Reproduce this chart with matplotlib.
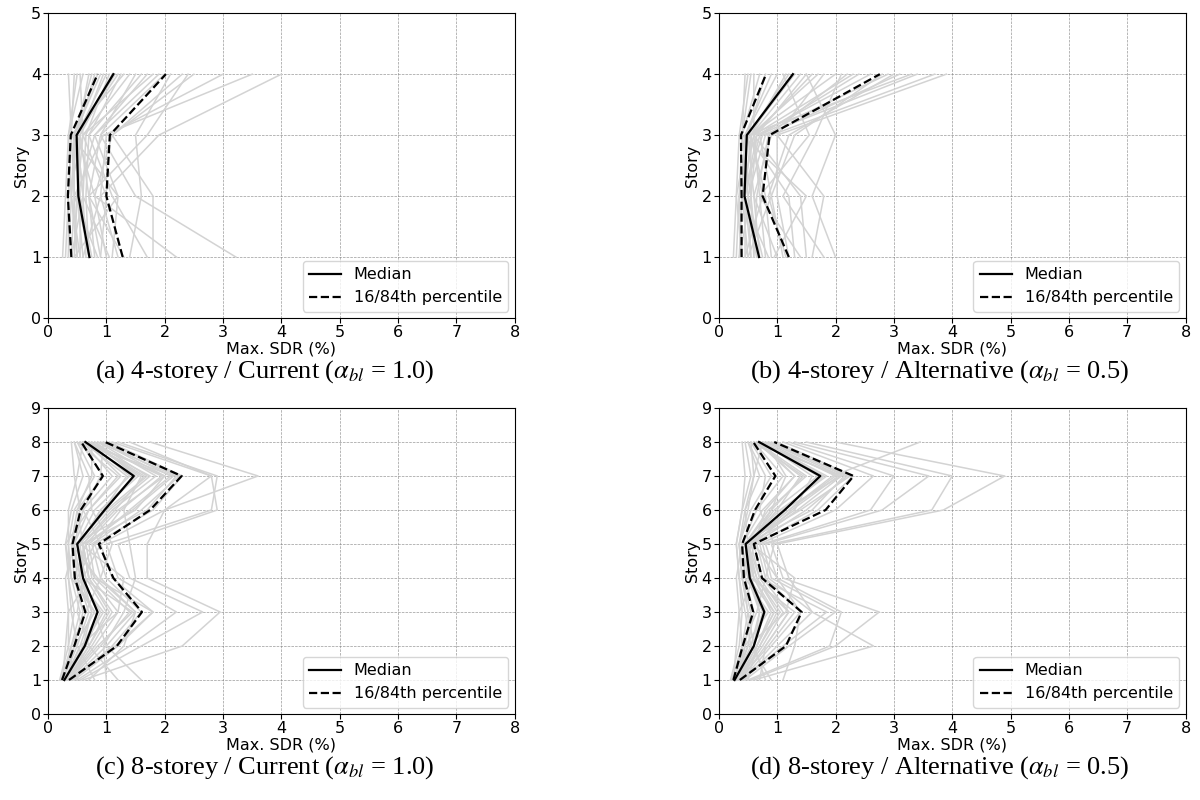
import matplotlib
matplotlib.use('Agg')
import matplotlib.pyplot as plt

plt.rcParams['mathtext.fontset'] = 'stix'

# 4层：每条地震记录的最大层间位移角 [1层, 2层, 3层, 4层]
a_gray = [
    [0.30, 0.35, 0.40, 0.45], [0.35, 0.40, 0.35, 0.60], [0.40, 0.45, 0.45, 0.90],
    [0.45, 0.50, 0.55, 1.10], [0.50, 0.40, 0.45, 0.75], [0.55, 0.55, 0.50, 1.20],
    [0.60, 0.50, 0.60, 1.40], [0.65, 0.60, 0.50, 1.00], [0.70, 0.65, 0.70, 1.60],
    [0.75, 0.55, 0.45, 0.85], [0.80, 0.70, 0.90, 2.00], [0.85, 0.45, 0.40, 1.30],
    [0.90, 1.00, 0.60, 1.80], [1.00, 0.80, 1.10, 2.50], [1.05, 0.60, 0.50, 1.15],
    [1.10, 1.20, 0.80, 1.70], [1.20, 0.90, 1.00, 3.00], [1.30, 0.70, 0.55, 0.95],
    [1.40, 1.60, 1.50, 2.10], [1.70, 1.10, 0.70, 1.25], [1.80, 1.80, 1.10, 2.30],
    [2.20, 0.80, 0.50, 0.70], [3.22, 1.50, 0.90, 1.50], [0.25, 0.30, 0.35, 0.50],
    [0.60, 0.90, 1.90, 4.00], [0.50, 0.45, 0.95, 3.50], [0.35, 0.35, 0.60, 0.55],
    [0.90, 0.70, 1.70, 2.40], [0.45, 1.20, 0.40, 0.35], [0.70, 0.50, 0.80, 1.90],
    [0.40, 0.60, 0.65, 1.05], [0.55, 0.40, 0.50, 0.80],
]
a_med = [0.71, 0.52, 0.49, 1.12]
a_p16 = [0.40, 0.34, 0.39, 0.85]
a_p84 = [1.28, 1.00, 1.06, 2.02]

b_gray = [
    [0.25, 0.30, 0.35, 0.50], [0.30, 0.35, 0.40, 0.70], [0.35, 0.40, 0.45, 1.00],
    [0.40, 0.35, 0.50, 1.30], [0.45, 0.45, 0.55, 2.00], [0.50, 0.40, 0.60, 2.30],
    [0.55, 0.50, 0.45, 0.90], [0.60, 0.55, 0.65, 2.60], [0.65, 0.45, 0.70, 2.90],
    [0.70, 0.60, 0.50, 1.20], [0.75, 0.50, 0.80, 3.10], [0.80, 0.70, 0.60, 1.60],
    [0.85, 0.40, 0.75, 3.40], [0.90, 0.80, 0.55, 1.40], [1.00, 0.60, 0.90, 3.70],
    [1.10, 0.90, 0.70, 2.40], [1.20, 1.00, 1.00, 3.90], [1.30, 1.20, 0.50, 0.80],
    [1.40, 0.70, 1.55, 1.10], [1.50, 1.40, 0.60, 0.60], [1.60, 1.80, 1.00, 1.80],
    [1.80, 1.10, 1.65, 2.10], [2.00, 1.60, 2.00, 1.50], [0.95, 1.50, 0.40, 0.45],
    [0.50, 0.90, 1.30, 2.80], [0.40, 0.30, 0.50, 3.30], [0.60, 0.65, 0.85, 2.20],
    [0.35, 0.55, 0.40, 0.55], [1.15, 0.85, 1.20, 3.00], [0.45, 0.75, 0.55, 1.70],
    [0.55, 0.45, 0.65, 1.50], [0.65, 0.55, 0.55, 1.15],
]
b_med = [0.69, 0.44, 0.48, 1.27]
b_p16 = [0.39, 0.39, 0.38, 0.81]
b_p84 = [1.20, 0.75, 0.87, 2.76]

# 8层：[1层 ... 8层]
c_gray = [
    [0.20, 0.35, 0.45, 0.35, 0.30, 0.40, 0.60, 0.45],
    [0.22, 0.40, 0.55, 0.40, 0.35, 0.45, 0.80, 0.50],
    [0.25, 0.45, 0.60, 0.45, 0.40, 0.50, 0.95, 0.55],
    [0.25, 0.50, 0.70, 0.50, 0.45, 0.60, 1.10, 0.60],
    [0.28, 0.55, 0.75, 0.55, 0.45, 0.70, 1.25, 0.65],
    [0.30, 0.60, 0.85, 0.60, 0.50, 0.80, 1.40, 0.70],
    [0.30, 0.65, 0.90, 0.55, 0.55, 0.90, 1.55, 0.75],
    [0.32, 0.70, 1.00, 0.65, 0.50, 1.00, 1.70, 0.80],
    [0.35, 0.75, 1.10, 0.70, 0.60, 1.10, 1.85, 0.85],
    [0.35, 0.80, 1.20, 0.75, 0.65, 1.20, 2.00, 0.90],
    [0.38, 0.90, 1.40, 0.80, 0.70, 1.40, 2.10, 0.95],
    [0.40, 1.00, 1.50, 0.90, 0.75, 1.60, 2.25, 1.00],
    [0.42, 1.10, 1.60, 1.00, 0.80, 1.80, 2.30, 1.05],
    [0.45, 1.20, 1.80, 1.10, 0.90, 2.00, 2.80, 1.10],
    [0.50, 1.40, 2.20, 1.20, 1.00, 2.80, 2.90, 1.20],
    [0.55, 1.60, 2.65, 1.40, 1.20, 2.90, 2.80, 1.40],
    [0.60, 2.30, 2.95, 1.70, 1.70, 2.00, 3.60, 1.75],
    [0.70, 1.30, 1.50, 0.85, 0.40, 0.55, 0.45, 0.40],
    [0.80, 0.50, 0.40, 0.35, 0.35, 0.35, 0.50, 0.60],
    [1.00, 0.95, 1.30, 1.50, 1.40, 1.30, 1.60, 0.70],
    [1.20, 0.70, 0.50, 0.60, 0.90, 0.60, 0.90, 0.95],
    [1.60, 1.00, 0.80, 0.40, 0.30, 0.70, 1.20, 0.50],
    [0.45, 0.35, 0.35, 0.30, 0.45, 1.50, 2.00, 0.65],
    [0.30, 0.55, 1.20, 1.30, 0.55, 0.90, 1.50, 0.80],
    [0.35, 0.85, 1.45, 0.60, 0.60, 1.70, 2.20, 0.85],
    [0.28, 0.40, 0.65, 0.90, 1.10, 0.75, 0.70, 0.45],
    [0.50, 0.60, 0.95, 0.50, 0.80, 1.25, 1.95, 0.70],
    [0.40, 1.15, 1.80, 0.80, 0.50, 0.95, 1.35, 0.60],
    [0.33, 0.45, 0.80, 0.45, 0.65, 1.45, 2.15, 0.55],
    [0.25, 0.30, 0.35, 0.70, 0.60, 0.50, 0.75, 0.75],
    [0.30, 0.60, 0.75, 0.60, 0.55, 1.05, 1.75, 0.65],
    [0.35, 0.70, 1.05, 0.70, 0.60, 1.15, 1.65, 0.70],
]
c_med = [0.28, 0.63, 0.85, 0.60, 0.50, 0.97, 1.47, 0.64]
c_p16 = [0.24, 0.45, 0.64, 0.46, 0.42, 0.56, 0.94, 0.57]
c_p84 = [0.36, 1.18, 1.61, 1.12, 0.87, 1.75, 2.29, 0.98]

d_gray = [
    [0.20, 0.35, 0.40, 0.35, 0.30, 0.40, 0.55, 0.45],
    [0.22, 0.40, 0.50, 0.40, 0.35, 0.45, 0.70, 0.50],
    [0.25, 0.45, 0.55, 0.40, 0.35, 0.55, 0.90, 0.55],
    [0.25, 0.50, 0.60, 0.45, 0.40, 0.65, 1.10, 0.60],
    [0.28, 0.55, 0.70, 0.50, 0.40, 0.75, 1.30, 0.65],
    [0.30, 0.60, 0.75, 0.50, 0.45, 0.85, 1.50, 0.65],
    [0.30, 0.60, 0.80, 0.55, 0.50, 0.95, 1.70, 0.70],
    [0.32, 0.65, 0.90, 0.60, 0.45, 1.05, 1.85, 0.75],
    [0.35, 0.70, 1.00, 0.65, 0.50, 1.20, 2.00, 0.80],
    [0.35, 0.75, 1.10, 0.70, 0.55, 1.35, 2.10, 0.85],
    [0.38, 0.80, 1.20, 0.75, 0.60, 1.50, 2.20, 0.90],
    [0.40, 0.90, 1.40, 0.80, 0.65, 1.70, 2.30, 1.00],
    [0.42, 1.00, 1.60, 0.85, 0.70, 2.00, 2.65, 1.10],
    [0.45, 1.20, 2.00, 0.90, 0.75, 2.60, 3.00, 1.20],
    [0.50, 1.90, 2.10, 1.00, 0.80, 2.80, 3.60, 1.30],
    [0.55, 2.00, 2.75, 1.10, 0.90, 3.65, 4.00, 1.50],
    [0.60, 2.65, 1.60, 1.20, 1.00, 3.85, 4.90, 2.00],
    [0.70, 0.80, 1.20, 0.60, 0.50, 1.20, 1.95, 3.45],
    [0.80, 0.60, 0.50, 0.40, 0.35, 0.50, 0.60, 0.55],
    [1.10, 1.30, 1.40, 1.00, 0.60, 0.80, 1.30, 0.70],
    [0.90, 0.55, 0.45, 0.35, 0.30, 0.40, 0.45, 0.40],
    [0.45, 0.40, 0.35, 0.30, 0.40, 1.40, 2.25, 0.85],
    [0.30, 0.50, 1.15, 1.30, 0.55, 0.90, 1.45, 0.60],
    [0.35, 0.85, 1.30, 0.55, 0.45, 1.60, 2.15, 0.95],
    [0.28, 0.40, 0.65, 0.80, 0.95, 0.70, 0.80, 0.50],
    [0.50, 0.65, 0.95, 0.50, 0.60, 1.25, 2.05, 0.70],
    [0.40, 1.10, 1.85, 0.70, 0.50, 1.00, 1.40, 0.65],
    [0.33, 0.45, 0.85, 0.45, 0.55, 1.10, 2.10, 0.60],
    [0.25, 0.30, 0.35, 0.60, 0.50, 0.45, 0.60, 0.75],
    [0.38, 0.70, 1.05, 0.65, 0.45, 0.90, 1.15, 0.80],
    [0.30, 0.60, 0.70, 0.55, 0.50, 1.10, 1.80, 0.70],
    [0.35, 0.65, 0.95, 0.60, 0.45, 1.30, 1.60, 0.75],
]
d_med = [0.27, 0.60, 0.78, 0.53, 0.46, 1.13, 1.74, 0.69]
d_p16 = [0.25, 0.41, 0.59, 0.43, 0.40, 0.62, 0.97, 0.59]
d_p84 = [0.36, 1.15, 1.42, 0.74, 0.60, 1.83, 2.31, 0.95]

captions = [
    r'(a) 4-storey / Current ($\alpha_{bl}$ = 1.0)',
    r'(b) 4-storey / Alternative ($\alpha_{bl}$ = 0.5)',
    r'(c) 8-storey / Current ($\alpha_{bl}$ = 1.0)',
    r'(d) 8-storey / Alternative ($\alpha_{bl}$ = 0.5)',
]

panels = [
    (a_gray, a_med, a_p16, a_p84, 4),
    (b_gray, b_med, b_p16, b_p84, 4),
    (c_gray, c_med, c_p16, c_p84, 8),
    (d_gray, d_med, d_p16, d_p84, 8),
]

# 各子图位置 [left, bottom, width, height]
boxes = [
    [0.040, 0.6025, 0.389, 0.381],
    [0.599, 0.6025, 0.389, 0.381],
    [0.040, 0.1075, 0.389, 0.3825],
    [0.599, 0.1075, 0.389, 0.3825],
]
cap_pos = [(0.221, 0.535), (0.783, 0.535), (0.221, 0.040), (0.783, 0.040)]

fig = plt.figure(figsize=(12, 8), dpi=100)
fs = 11.5

for k in range(4):
    gray, med, p16, p84, n = panels[k]
    stories = list(range(1, n + 1))
    ax = fig.add_axes(boxes[k])
    for g in gray:
        ax.plot(g, stories, color='lightgray', lw=1.1)
    ax.plot(med, stories, 'k-', lw=1.6, label='Median')
    ax.plot(p16, stories, 'k--', lw=1.6, label='16/84th percentile')
    ax.plot(p84, stories, 'k--', lw=1.6)
    ax.set_xlim(0, 8)
    ax.set_ylim(0, n + 1)
    ax.set_xticks(range(0, 9))
    ax.set_yticks(range(0, n + 2))
    ax.grid(True, color='gray', linestyle='--', linewidth=0.5, alpha=0.8)
    ax.set_axisbelow(True)
    ax.set_xlabel('Max. SDR (%)', fontsize=fs, labelpad=1)
    ax.set_ylabel('Story', fontsize=fs, labelpad=1)
    ax.tick_params(labelsize=fs, pad=1.5)
    ax.legend(loc='lower right', fontsize=fs, borderaxespad=0.4)
    fig.text(cap_pos[k][0], cap_pos[k][1], captions[k], ha='center', va='center',
             fontsize=19, family='Liberation Serif')

plt.savefig('out.png', dpi=100)
